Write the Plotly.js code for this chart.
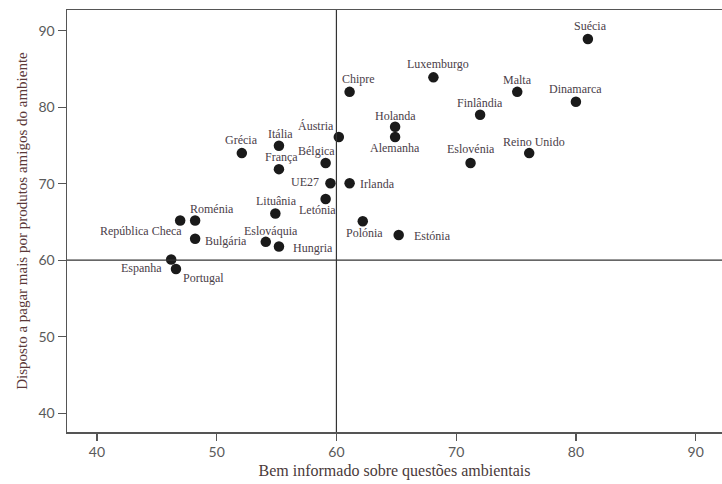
<!DOCTYPE html>
<html>
<head>
<meta charset="utf-8">
<script src="https://cdn.plot.ly/plotly-3.0.1.min.js"></script>
<style>html,body{margin:0;padding:0;background:#fff;}#chart{width:722px;height:484px;}</style>
</head>
<body>
<div id="chart"></div>
<script>
// Data
const countries = ["Suécia","Luxemburgo","Chipre","Malta","Dinamarca","Finlândia","Holanda","Alemanha","Áustria","Reino Unido","Eslovénia","Irlanda","UE27","Grécia","Itália","França","Bélgica","Letónia","Lituânia","Polónia","Estónia","Roménia","República Checa","Bulgária","Eslováquia","Hungria","Espanha","Portugal"];
const informed = [81.0,68.1,61.1,75.1,80.0,72.0,64.9,64.9,60.2,76.1,71.2,61.1,59.5,52.1,55.2,55.2,59.1,59.1,54.9,62.2,65.2,48.2,46.95,48.2,54.1,55.2,46.2,46.6];
const willingToPay = [88.9,83.9,82.0,82.0,80.7,79.0,77.45,76.1,76.1,74.0,72.7,70.05,70.05,74.0,74.97,71.9,72.7,68.0,66.1,65.1,63.3,65.2,65.2,62.8,62.4,61.8,60.1,58.85];
const xTicks = [40,50,60,70,80,90];
const yTicks = [40,50,60,70,80,90];
const refX = 60, refY = 60;

// Label placement (pixel offsets from each point): [anchor, dx, dy]
const labelPlace = {
  "Suécia":["center",3,-13], "Luxemburgo":["center",5,-13], "Chipre":["center",9,-13],
  "Malta":["center",0,-12], "Dinamarca":["center",0,-13], "Finlândia":["center",0,-12],
  "Holanda":["center",0,-10.5], "Alemanha":["center",0,11], "Áustria":["center",-23,-11],
  "Reino Unido":["center",5,-11], "Eslovénia":["center",0,-14], "Irlanda":["left",8,1],
  "UE27":["right",-9,-1.5], "Grécia":["center",0,-13], "Itália":["center",2,-12],
  "França":["center",3,-12], "Bélgica":["center",-9,-12], "Letónia":["center",-8,11],
  "Lituânia":["center",1,-12.6], "Polónia":["center",2,12], "Estónia":["left",13,1],
  "Roménia":["center",17,-11], "República Checa":["right",4,11], "Bulgária":["left",8,2],
  "Eslováquia":["center",5,-11], "Hungria":["left",12,2], "Espanha":["right",-7,9],
  "Portugal":["left",5,9]
};

const serif = "Liberation Serif, Times New Roman, serif";
const annotations = countries.map((c,i)=>{
  const p = labelPlace[c];
  return {x: informed[i], y: willingToPay[i], xref:'x', yref:'y', text: c, showarrow:false,
    xanchor: p[0], yanchor:'middle', xshift: p[1], yshift: -p[2],
    font:{family: serif, size: 12, color:'#4a4048'}};
});

const trace = {
  x: informed, y: willingToPay, mode:'markers', type:'scatter',
  marker:{size:10.5, color:'#1a1a1a'}, hoverinfo:'text', text: countries
};

const layout = {
  width:722, height:484,
  margin:{l:67, r:0, t:10, b:52},
  paper_bgcolor:'#fff', plot_bgcolor:'#fff',
  showlegend:false,
  xaxis:{range:[37.5,92.2], tickvals:xTicks, ticktext:xTicks.map(String),
    showgrid:false, zeroline:false, showline:true, mirror:true, linecolor:'#555', linewidth:1.5,
    ticks:'outside', ticklen:7, tickcolor:'#555', tickwidth:1.2,
    tickfont:{family:'Lato, Open Sans, sans-serif', size:14, color:'#5a5a5a'},
    title:{text:'Bem informado sobre questões ambientais', font:{family:serif, size:16, color:'#4a3a3a'}, standoff:5}},
  yaxis:{range:[37.55,92.7], tickvals:yTicks, ticktext:yTicks.map(String),
    showgrid:false, zeroline:false, showline:true, mirror:false, linecolor:'#555', linewidth:1.5,
    ticks:'outside', ticklen:8, tickcolor:'#555', tickwidth:1.2,
    tickfont:{family:'Lato, Open Sans, sans-serif', size:14, color:'#5a5a5a'},
    title:{text:'Disposto a pagar mais por produtos amigos do ambiente', font:{family:serif, size:15, color:'#5a3838'}, standoff:7}},
  shapes:[
    {type:'line', xref:'x', yref:'paper', x0:refX, x1:refX, y0:0, y1:1, line:{color:'#333', width:1.2}},
    {type:'line', xref:'paper', yref:'y', x0:0, x1:1, y0:refY, y1:refY, line:{color:'#333', width:1.2}}
  ],
  annotations: annotations
};

Plotly.newPlot('chart', [trace], layout, {displayModeBar:false, staticPlot:true});
</script>
</body>
</html>
